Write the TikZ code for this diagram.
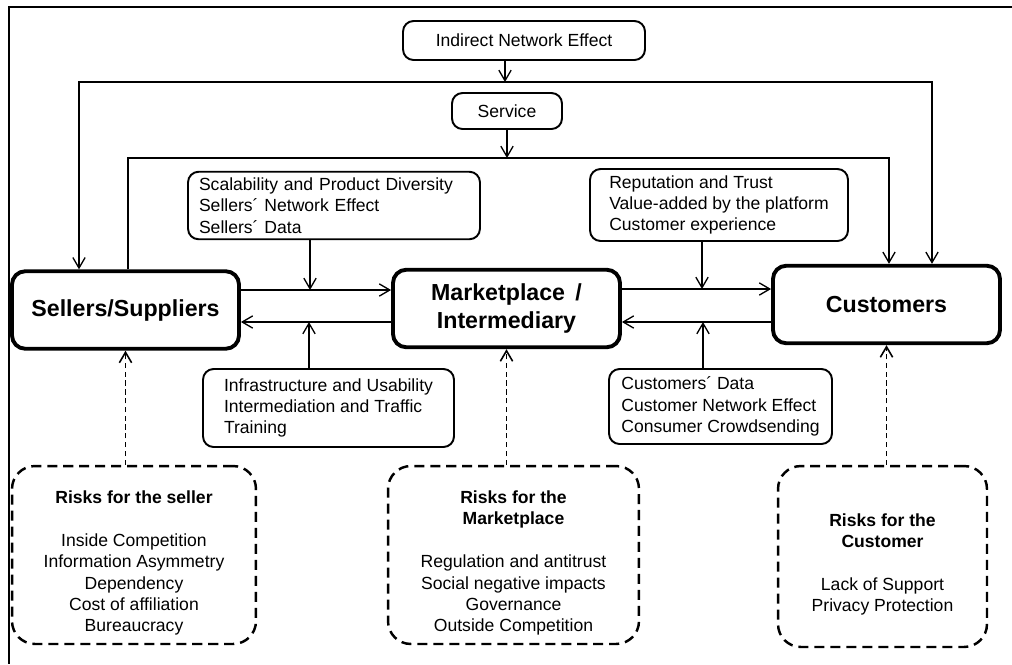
\documentclass[tikz,border=0pt]{standalone}
\usepackage{fontspec}
\setmainfont{Liberation Sans}
\usetikzlibrary{arrows.meta}
\newcommand{\riskhead}[1]{\rule{0pt}{16.4pt}\textbf{#1}}
\tikzstyle{box}=[
	draw=black,
	rectangle,
	rounded corners=6pt,
	line width=1.1pt,
	align=left,
	font=\fontsize{10}{12.2}\selectfont]
\tikzstyle{actor}=[
	draw=black,
	rectangle,
	rounded corners=7.5pt,
	line width=2.2pt,
	align=center,
	minimum width=4.54cm,
	minimum height=1.55cm,
	font=\fontsize{13.2}{15.9}\selectfont\bfseries]
\tikzstyle{risk}=[
	draw=black,
	rectangle,
	rounded corners=13pt,
	line width=1.4pt,
	dash pattern=on 5.7pt off 3.4pt,
	align=center,
	font=\fontsize{10}{12.2}\selectfont]
\tikzstyle{link}=[
	->,
	line width=0.75pt]
\tikzstyle{threat}=[
	->,
	line width=0.9pt,
	dash pattern=on 3pt off 2pt]

\begin{document}
\begin{tikzpicture}[x=0.02cm,y=-0.02cm,>={Straight Barb[length=6pt,width=7pt]}]
	\useasboundingbox (0,0) rectangle (1012,664);
	\draw[line width=0.9pt] (1012,7) -- (9,7) -- (9,664);
	\begin{scope}
		\node[actor]	(sellers)	at (125.5,310)	{Sellers/Suppliers};
		\node[actor]	(market)	at (506.5,308.5)	{Marketplace \,/\\Intermediary};
		\node[actor]	(customers)	at (886.5,304.5)	{Customers};
	\end{scope}
	\begin{scope}
		\node[box,minimum width=4.84cm,minimum height=0.78cm]	(indirect)	at (524,40.5)	{Indirect Network Effect};
		\node[box,minimum width=2.2cm,minimum height=0.72cm]	(service)	at (507,111)	{Service};
		\node[box,minimum width=5.84cm,minimum height=1.34cm,text width=5.4cm]	(scaling)	at (334,205.5)
		{Scalability and Product Diversity\\Sellers´ Network Effect\\Sellers´ Data};
		\node[box,minimum width=5.02cm,minimum height=1.56cm]	(infra)	at (328.5,408)
		{Infrastructure and Usability\\Intermediation and Traffic\\Training};
		\node[box,minimum width=5.16cm,minimum height=1.44cm]	(trust)	at (719,205)
		{Reputation and Trust\\Value-added by the platform\\Customer experience};
		\node[box,minimum width=4.46cm,minimum height=1.5cm]	(custdata)	at (720.5,406.5)
		{Customers´ Data\\Customer Network Effect\\Consumer Crowdsending};
	\end{scope}
	\begin{scope}
		\node[risk,minimum width=4.88cm,minimum height=3.56cm]	(sellrisk)	at (134,555)
		{\riskhead{Risks for the seller}\\\ \\Inside Competition\\Information Asymmetry\\Dependency\\Cost of affiliation\\Bureaucracy};
		\node[risk,minimum width=5.02cm,minimum height=3.56cm]	(marketrisk)	at (513.5,555)
		{\riskhead{Risks for the}\\\textbf{Marketplace}\\\ \\Regulation and antitrust\\Social negative impacts\\Governance\\Outside Competition};
		\node[risk,minimum width=4.18cm,minimum height=3.62cm]	(custrisk)	at (882.5,556.5)
		{\riskhead{Risks for the}\\\textbf{Customer}\\\ \\Lack of Support\\Privacy Protection};
	\end{scope}
	\coordinate	(netjoin)	at (505,82);
	\coordinate	(netleft)	at (79,82);
	\coordinate	(netright)	at (932,82);
	\coordinate	(servjoin)	at (507,158);
	\coordinate	(servleft)	at (128,158);
	\coordinate	(servright)	at (889,158);
	\coordinate	(sellfwd)	at (310,290);
	\coordinate	(sellback)	at (309,322);
	\coordinate	(custfwd)	at (702,289);
	\coordinate	(custback)	at (703,322);
	\draw[link]	(indirect.south -| netjoin) -- (netjoin);
	\draw[link,<->]	(sellers.north -| netleft) |- (netright) -- (customers.north -| netright);
	\draw[link]	(service.south -| servjoin) -- (servjoin);
	\draw[link]	(sellers.north -| servleft) |- (servright) -- (customers.north -| servright);
	\draw[link]	(sellers.east |- sellfwd) -- (market.west |- sellfwd);
	\draw[link]	(market.west |- sellback) -- (sellers.east |- sellback);
	\draw[link]	(scaling.south -| sellfwd) -- (sellfwd);
	\draw[link]	(infra.north -| sellback) -- (sellback);
	\draw[link]	(market.east |- custfwd) -- (customers.west |- custfwd);
	\draw[link]	(customers.west |- custback) -- (market.east |- custback);
	\draw[link]	(trust.south -| custfwd) -- (custfwd);
	\draw[link]	(custdata.north -| custback) -- (custback);
	\draw[threat]	(sellrisk.north -| sellers.south) -- (sellers.south);
	\draw[threat]	(marketrisk.north -| market.south) -- (market.south);
	\draw[threat]	(custrisk.north -| customers.south) -- (customers.south);
\end{tikzpicture}
\end{document}
